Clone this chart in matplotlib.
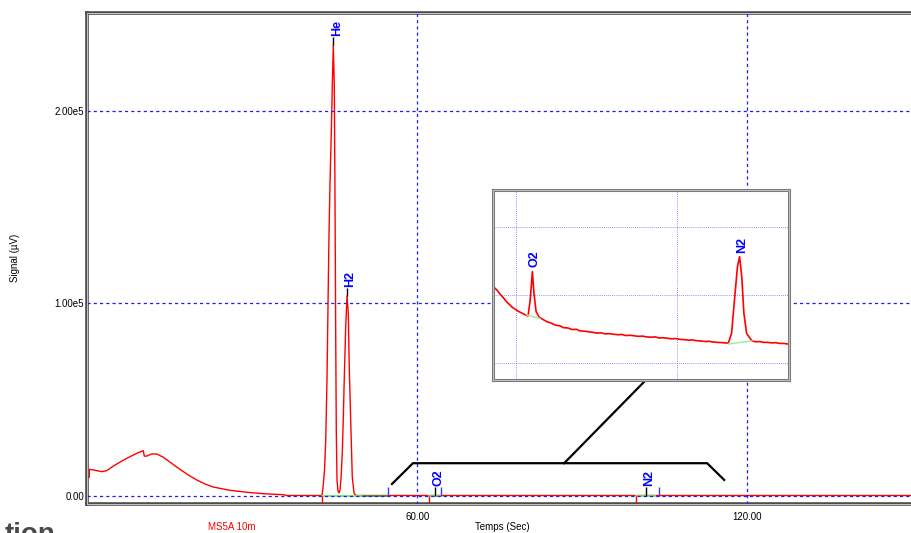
import matplotlib
matplotlib.use('Agg')
import matplotlib.pyplot as plt
from matplotlib.patches import Rectangle

plt.rcParams['font.family'] = ['Liberation Sans', 'DejaVu Sans']

# main chromatogram (time in s, signal in uV)
main_t = [0.36, 0.36, 1.09, 2.62, 3.53, 4.73, 6.25, 7.76, 9.27, 10.18, 10.36, 10.8,
          11.71, 12.62, 13.82, 15.35, 16.85, 18.36, 19.89, 21.4, 22.91, 25.95, 28.98,
          32.0, 35.64, 36.25, 42.67, 42.85, 43.13, 43.35, 43.58, 43.82, 43.95, 44.13,
          44.36, 44.55, 44.73, 44.91, 45.04, 45.16, 45.27, 45.4, 45.58, 45.76, 45.95,
          46.13, 46.36, 46.55, 46.73, 46.98, 47.22, 47.45, 47.64, 47.89, 48.18, 48.49,
          48.85, 151.0]
main_v = [9500, 13600, 13300, 12400, 12900, 15300, 17900, 20200, 22300, 23300, 20500,
          20500, 21600, 21600, 19900, 16700, 13600, 10700, 8100, 6000, 4400, 2700, 1700,
          940, 420, 0, 0, 3900, 13260, 28870, 60080, 110530, 136540, 162550, 188560,
          213520, 234330, 213520, 153700, 86090, 34070, 8060, 2340, 1300, 2900, 9000,
          22100, 40800, 61600, 87600, 103800, 94900, 65300, 39300, 9600, 1300, 0, 0]

x_ticks = [60, 120]
x_tick_labels = ['60.00', '120.00']
y_ticks = [0, 100000, 200000]
y_tick_labels = ['0.00', '1.00e5', '2.00e5']

# peaks in main view
peak_names = ['He', 'H2', 'O2', 'N2']
peak_apex_t = [44.73, 47.22, 63.2, 101.5]
peak_apex_v = [234330, 103800, 0, 0]
peak_start_t = [42.6, 62.2, 99.7]
peak_end_t = [54.6, 64.3, 103.9]
baseline_segments = [(42.6, 50.2, '#66ee66'), (50.2, 54.6, '#4f9a2a'),
                     (62.2, 64.3, '#66ee66'), (99.7, 103.2, '#66ee66')]

# zoomed region (inset)
zoom_t = [55.5, 56.0, 56.6, 57.1, 57.7, 58.3, 58.9, 59.4, 59.9, 60.5, 61.0, 61.4, 61.9,
          62.3, 62.7, 63.1, 63.4, 63.8, 64.4, 65.0, 65.8, 66.6, 67.4, 68.2, 68.9, 69.7,
          70.5, 71.3, 72.0, 72.8, 73.6, 74.3, 75.1, 75.9, 76.7, 77.4, 78.2, 79.0, 79.8,
          80.5, 81.3, 82.1, 82.9, 83.6, 84.4, 85.2, 86.0, 86.7, 87.5, 88.3, 89.1, 89.8,
          90.6, 91.4, 92.2, 92.9, 93.7, 94.5, 95.3, 96.0, 96.8, 97.6, 98.4, 99.0, 99.6,
          100.2, 100.8, 101.3, 101.7, 102.1, 102.5, 103.0, 104.0, 104.8, 105.5, 106.1,
          106.9, 107.7, 108.4, 109.2, 110.0, 110.6, 111.0]
zoom_v = [288, 279, 267, 254, 241, 226, 215, 205, 199, 191, 186, 182, 177,
          174, 233, 337, 257, 190, 169, 162, 153, 148, 140, 138, 131, 130,
          124, 125, 119, 118, 116, 114, 111, 112, 108, 109, 107, 105, 106,
          102, 103, 101, 99, 100, 97, 96, 97, 93, 94, 92, 90, 91,
          88, 87, 85, 86, 83, 82, 80, 81, 78, 77, 76, 75, 74,
          110, 245, 355, 392, 318, 184, 110, 82, 79, 80, 77,
          77, 75, 76, 73, 73, 71, 72]
zoom_names = ['O2', 'N2']
zoom_apex_t = [63.1, 101.7]
zoom_apex_v = [337, 392]
zoom_baselines = [(62.0, 178, 64.5, 165), (99.6, 71, 104.0, 82)]
zoom_from, zoom_to = 55.4, 115.8

W, H = 912, 533
fig = plt.figure(figsize=(W / 100, H / 100), dpi=100)

# ---- main axes
ax = fig.add_axes([87.3 / W, 29 / H, (918 - 87.3) / W, 491 / H])
ax.set_xlim(0, (918 - 87.3) / 5.5)
ax.set_ylim(-4420, 251000)
ax.plot(main_t, main_v, color='#ff0000', lw=1.0, zorder=2)

for t0, t1, c in baseline_segments:
    ax.plot([t0, t1], [0, 0], color=c, lw=1.3, zorder=2.2)
ax.vlines(peak_start_t, -3900, 0, color='#ff0000', lw=1.0, zorder=3)
ax.vlines(peak_end_t, 0, 4200, color='#3a3aff', lw=1.0, zorder=3)
for name, t, v in zip(peak_names, peak_apex_t, peak_apex_v):
    ax.vlines(t, v, v + 4200, color='black', lw=1.0, zorder=3)
    ax.annotate(name, xy=(t, v + 4200), xytext=(2.5, 1), textcoords='offset points',
                rotation=90, ha='center', va='bottom', color='#0000ff',
                fontweight='bold', fontsize=9)

ax.set_xticks(x_ticks)
ax.set_xticklabels(x_tick_labels)
ax.set_yticks(y_ticks)
ax.set_yticklabels(y_tick_labels)
ax.tick_params(length=0, labelsize=7)
ax.tick_params(axis='y', pad=2.2)
ax.tick_params(axis='x', pad=5.5)
ax.set_axisbelow(False)
ax.grid(True, color='#1a1aff', linestyle=(0, (2.5, 2.5)), lw=0.9)
for s in ax.spines.values():
    s.set_linewidth(2.6)
    s.set_color('#4d4d4d')
ax.add_patch(Rectangle((0, 0), 1, 1, transform=ax.transAxes, fill=False,
                       ec='#d9d9d9', lw=0.6, clip_on=False, zorder=5))

# bracket to inset
bx = [zoom_from, zoom_from + 3.8, zoom_to - 3.1, zoom_to]
by = [6000, 16800, 16800, 8100]
ax.plot(bx, by, color='black', lw=1.6, clip_on=False, zorder=4)
ax.plot([86.7, 101.6], [16800, 60200], color='black', lw=1.6, zorder=4)

fig.text(15 / W, 1 - 258 / H, 'Signal (\u00b5V)', rotation=90, ha='center', va='center',
         fontsize=7)
fig.text(502 / W, 1 - 527.5 / H, 'Temps (Sec)', ha='center', va='center', fontsize=7)
fig.text(231.7 / W, 1 - 527.5 / H, 'MS5A 10m', ha='center', va='center', fontsize=7,
         color='#ff0000')
fig.text(56 / W, 1 - 542 / H, 'tion', ha='right', va='baseline', fontsize=20,
         fontweight='bold', color='#4a4a4a')

# ---- inset
ax_in = fig.add_axes([493 / W, (H - 380) / H, 296 / W, 190 / H], zorder=10)
ax_in.set_xlim(55.77, 110.9)
ax_in.set_ylim(-61.4, 637.1)
ax_in.plot(zoom_t, zoom_v, color='#ff0000', lw=1.2, zorder=2)
for t0, v0, t1, v1 in zoom_baselines:
    ax_in.plot([t0, t1], [v0, v1], color='#99ee99', lw=1.0, zorder=2.5)
for name, t, v in zip(zoom_names, zoom_apex_t, zoom_apex_v):
    ax_in.annotate(name, xy=(t, v), xytext=(1.5, 3), textcoords='offset points',
                   rotation=90, ha='center', va='bottom', color='#0000ff',
                   fontweight='bold', fontsize=9)
ax_in.set_xticks([60, 90])
ax_in.set_yticks([0, 250, 500])
ax_in.set_xticklabels([])
ax_in.set_yticklabels([])
ax_in.tick_params(length=0)
ax_in.grid(True, color='#6a6aff', linestyle=(0, (1, 1.5)), lw=0.6)
for s in ax_in.spines.values():
    s.set_linewidth(2.2)
    s.set_color('#7a7a7a')
ax_in.add_patch(Rectangle((0, 0), 1, 1, transform=ax_in.transAxes, fill=False,
                          ec='#dddddd', lw=0.5, clip_on=False, zorder=5))

fig.savefig('out.png', dpi=100)
